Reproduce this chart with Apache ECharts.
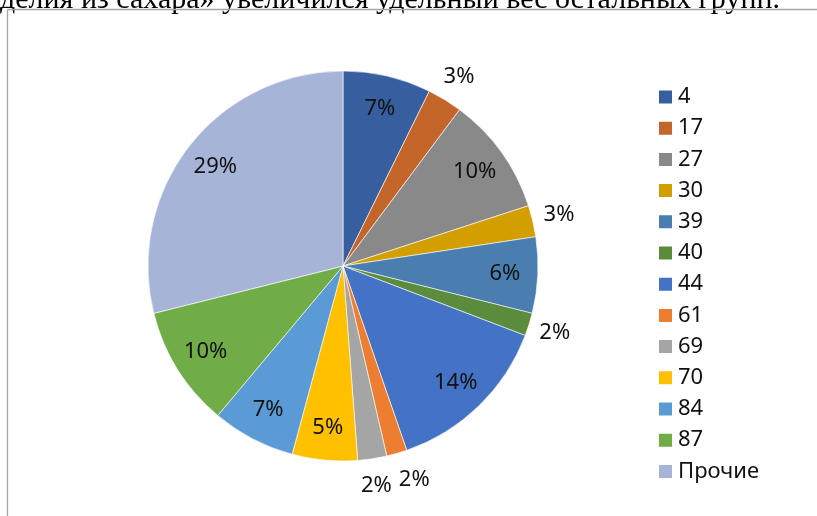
<!DOCTYPE html>
<html>
<head>
<meta charset="utf-8">
<script src="https://cdn.jsdelivr.net/npm/echarts@6/dist/echarts.min.js"></script>
<style>
  html, body { margin: 0; padding: 0; background: #fff; }
  #chart { width: 817px; height: 516px; }
</style>
</head>
<body>
<div id="chart"></div>
<script>
// группы изделий и их доли, %
const groups = ['4', '17', '27', '30', '39', '40', '44', '61', '69', '70', '84', '87', 'Прочие']
const shares = [7.3, 2.9, 9.8, 2.6, 6.3, 1.9, 13.9, 1.7, 2.4, 5.4, 6.9, 10.0, 28.9]
const colors = ['#375E9F', '#C4662A', '#898989', '#D39E00', '#4A7EB0', '#5A8C3B', '#4472C4',
  '#ED7D31', '#A5A5A5', '#FFC000', '#5B9BD5', '#70AD47', '#A6B4D8']

const headText = 'делия из сахара» увеличился удельный вес остальных групп.'

const center = [343, 266]
const font = '"Noto Sans", sans-serif'
const outsideLimit = 5 // маленькие доли подписываются снаружи

const pct = p => Math.round(p.percent) + '%'

// прозрачное кольцо только для подписей
const labelRing = (radius, showFn, layout) => ({
  type: 'pie',
  radius,
  center,
  silent: true,
  avoidLabelOverlap: false,
  emphasis: { disabled: true },
  itemStyle: { color: 'transparent', borderWidth: 0 },
  labelLine: { show: false },
  labelLayout: layout,
  data: groups.map((name, i) => ({
    name,
    value: shares[i],
    label: {
      show: showFn(shares[i]),
      position: 'inside',
      formatter: pct,
      color: '#111',
      fontSize: 22,
      fontFamily: font
    }
  }))
})

const chart = echarts.init(document.getElementById('chart'))
chart.setOption({
  backgroundColor: '#fff',
  animation: false,
  legend: {
    orient: 'vertical',
    left: 652,
    top: 81,
    data: groups,
    icon: 'rect',
    itemWidth: 15,
    itemHeight: 15,
    itemGap: 9.2,
    itemTextGap: 7,
    textStyle: { color: '#111', fontSize: 22, fontFamily: font, lineHeight: 22 }
  },
  graphic: [
    {
      type: 'text',
      left: 0,
      top: -15,
      style: { text: headText, font: '30px "Liberation Serif", serif', fill: '#000' }
    },
    {
      type: 'line',
      shape: { x1: 7.5, y1: 9.5, x2: 830, y2: 9.5 },
      style: { stroke: '#a6a6a6', lineWidth: 1.3 }
    },
    {
      type: 'line',
      shape: { x1: 7.5, y1: 9.5, x2: 7.5, y2: 530 },
      style: { stroke: '#a6a6a6', lineWidth: 1.3 }
    }
  ],
  series: [
    {
      type: 'pie',
      radius: 195,
      center,
      label: { show: false },
      labelLine: { show: false },
      itemStyle: { borderColor: '#fff', borderWidth: 0.6 },
      data: groups.map((name, i) => ({ name, value: shares[i], itemStyle: { color: colors[i] } }))
    },
    labelRing([142, 176], v => v >= outsideLimit, { hideOverlap: false }),
    // подписи 61 и 69 стоят рядом, как в Excel: 61 чуть сдвинута вправо
    labelRing([205, 233], v => v < outsideLimit, p => ({
      hideOverlap: false,
      dx: groups[p.dataIndex] === '61' ? 10 : 0
    }))
  ]
})
</script>
</body>
</html>
